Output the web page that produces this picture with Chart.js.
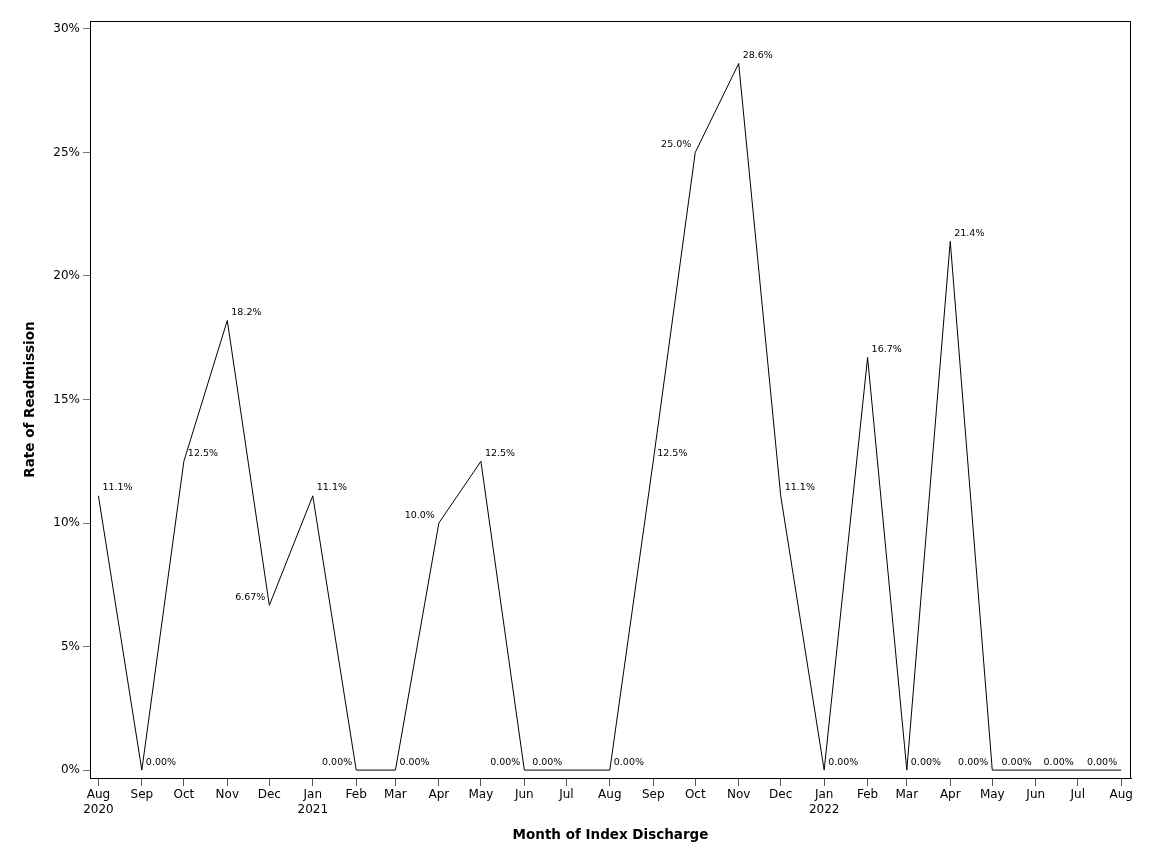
<!DOCTYPE html>
<html>
<head>
<meta charset="utf-8">
<script src="https://cdn.jsdelivr.net/npm/chart.js@4"></script>
<style>
  html, body { margin: 0; padding: 0; background: #fff; }
  #wrap { width: 1152px; height: 864px; }
</style>
</head>
<body>
<div id="wrap"><canvas id="readmitChart"></canvas></div>
<script>
// months of index discharge (YYYY-MM)
const months = ['2020-08', '2020-09', '2020-10', '2020-11', '2020-12',
  '2021-01', '2021-02', '2021-03', '2021-04', '2021-05', '2021-06', '2021-07',
  '2021-08', '2021-09', '2021-10', '2021-11', '2021-12',
  '2022-01', '2022-02', '2022-03', '2022-04', '2022-05', '2022-06', '2022-07', '2022-08'];
// readmission rate, %
const rates = [11.1, 0, 12.5, 18.2, 6.67,
  11.1, 0, 0, 10.0, 12.5, 0, 0,
  0, 12.5, 25.0, 28.6, 11.1,
  0, 16.7, 0, 21.4, 0, 0, 0, 0];
const monthNames = ['Jan', 'Feb', 'Mar', 'Apr', 'May', 'Jun', 'Jul', 'Aug', 'Sep', 'Oct', 'Nov', 'Dec'];
const yTicks = [0, 5, 10, 15, 20, 25, 30];
// which side of the point each value label sits (R = right, L = left)
const labelSide = ['R', 'R', 'R', 'R', 'L', 'R', 'L', 'R', 'L', 'R', 'L', 'L',
  'R', 'R', 'L', 'R', 'R', 'R', 'R', 'R', 'R', 'L', 'L', 'L', 'L'];

const FONT = "'DejaVu Sans', sans-serif";

// x position = days since first month
const t0 = Date.UTC(2020, 7, 1);
function dayOf(ym) {
  const [y, m] = ym.split('-').map(Number);
  return (Date.UTC(y, m - 1, 1) - t0) / 86400000;
}
const xs = months.map(dayOf);
const points = xs.map((x, i) => ({ x: x, y: rates[i] }));

function fmt(v) {
  return v.toPrecision(3) + '%';
}

const frameAndLabels = {
  id: 'frameAndLabels',
  afterDatasetsDraw(chart) {
    const { ctx, chartArea: a } = chart;
    ctx.save();
    ctx.strokeStyle = '#000';
    ctx.lineWidth = 1;
    ctx.strokeRect(a.left + 0.5, a.top + 0.5, a.right - a.left - 1, a.bottom - a.top);
    ctx.font = '9.5px ' + FONT;
    ctx.fillStyle = '#000';
    ctx.textBaseline = 'middle';
    const meta = chart.getDatasetMeta(0);
    meta.data.forEach((pt, i) => {
      const right = labelSide[i] === 'R';
      ctx.textAlign = right ? 'left' : 'right';
      ctx.fillText(fmt(rates[i]), pt.x + (right ? 4 : -4), pt.y - 8);
    });
    ctx.restore();
  }
};

const ctx = document.getElementById('readmitChart').getContext('2d');
const readmitChart = new Chart(ctx, {
  type: 'line',
  data: {
    datasets: [{
      data: points,
      borderColor: '#000',
      borderWidth: 1,
      pointRadius: 0,
      tension: 0,
      fill: false
    }]
  },
  options: {
    responsive: true,
    maintainAspectRatio: false,
    animation: false,
    layout: { padding: { top: 21, right: 21, left: 0, bottom: 0 } },
    plugins: {
      legend: { display: false },
      tooltip: { enabled: false }
    },
    scales: {
      x: {
        type: 'linear',
        min: xs[0] - 6,
        max: xs[xs.length - 1] + 7,
        afterBuildTicks: function(scale) {
          scale.ticks = xs.map(v => ({ value: v }));
        },
        afterFit: function(scale) { scale.height = 86; },
        grid: { drawOnChartArea: false, tickLength: 8, tickColor: '#555' },
        border: { color: '#000', width: 1 },
        ticks: {
          autoSkip: false,
          maxRotation: 0,
          padding: 1,
          color: '#000',
          font: { family: FONT, size: 12, lineHeight: 1.25 },
          callback: function(value, index) {
            const [y, m] = months[index].split('-').map(Number);
            const name = monthNames[m - 1];
            if (index === 0 || m === 1) return [name, String(y)];
            return name;
          }
        },
        title: {
          display: true,
          text: 'Month of Index Discharge',
          color: '#000',
          font: { family: FONT, size: 13.5, weight: 'bold' },
          padding: { top: 0, bottom: 20 }
        }
      },
      y: {
        min: -0.32,
        max: 30.32,
        afterBuildTicks: function(scale) {
          scale.ticks = yTicks.map(v => ({ value: v }));
        },
        afterFit: function(scale) { scale.width = 90; },
        grid: { drawOnChartArea: false, tickLength: 7, tickColor: '#777' },
        border: { color: '#000', width: 1 },
        ticks: {
          padding: 3,
          color: '#000',
          font: { family: FONT, size: 12 },
          callback: function(value) { return value + '%'; }
        },
        title: {
          display: true,
          text: 'Rate of Readmission',
          color: '#000',
          font: { family: FONT, size: 13.5, weight: 'bold' },
          padding: { top: 22, bottom: 0 }
        }
      }
    }
  },
  plugins: [frameAndLabels]
});
</script>
</body>
</html>
